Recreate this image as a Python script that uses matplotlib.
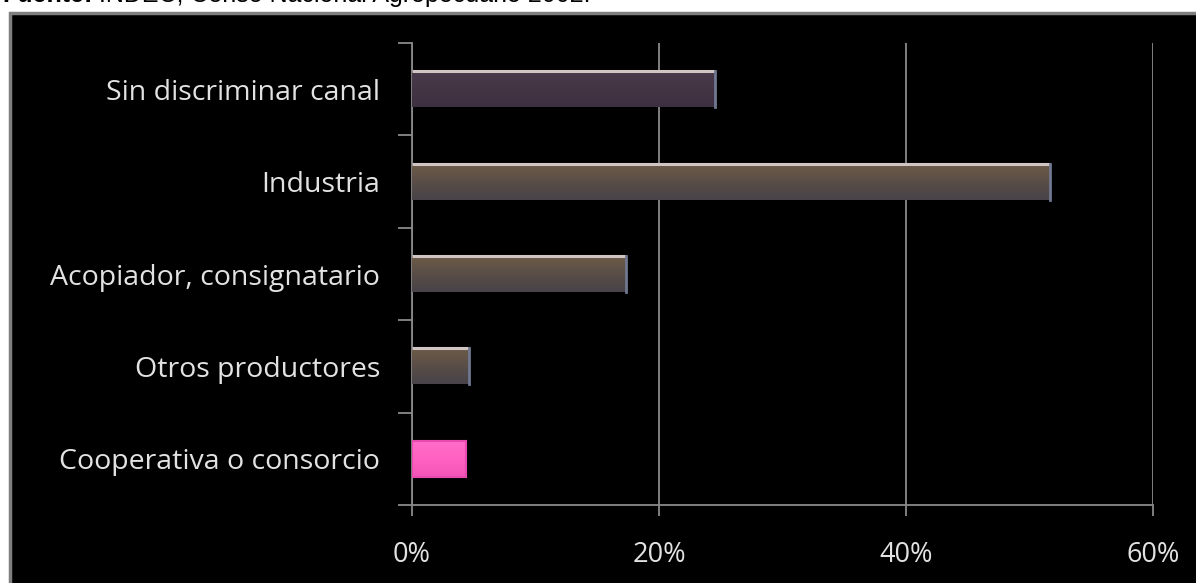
import matplotlib
matplotlib.use("Agg")
import matplotlib.pyplot as plt
import numpy as np
from matplotlib.patches import Rectangle
from matplotlib.text import Annotation
from matplotlib.colors import LinearSegmentedColormap
from matplotlib.ticker import FixedLocator, PercentFormatter

categories = ["Cooperativa o consorcio", "Otros productores",
              "Acopiador, consignatario", "Industria", "Sin discriminar canal"]
values = [4.4, 4.6, 17.3, 51.7, 24.5]
xticks = [0, 20, 40, 60]
source_head = "Fuente:"
source_body = " INDEC, Censo Nacional Agropecuario 2002."

W, H, DPI = 1196, 583, 100
fig = plt.figure(figsize=(W / DPI, H / DPI), dpi=DPI, facecolor="white")

# black slide panel with a grey frame on top and left
panel = Rectangle((10 / W, -0.05), 1.1, 1 - 13 / H + 0.05, transform=fig.transFigure,
                  facecolor="black", edgecolor="#7f7f7f", linewidth=2.5, zorder=-5)
fig.patches.append(panel)

head = fig.text(2 / W, 1 - 7 / H, source_head, fontsize=18, fontname="Liberation Sans",
                fontweight="bold", va="bottom", ha="left", color="black")
body = Annotation(source_body, xy=(1, 0), xycoords=head, va="bottom", ha="left",
                  fontsize=18, fontname="Liberation Sans", color="black",
                  annotation_clip=False)
fig.add_artist(body)

ax = fig.add_axes([412 / W, 1 - 505 / H, (1153 - 412) / W, (505 - 43) / H])
ax.patch.set_alpha(0)

y = np.arange(len(categories))
bh = 0.39
bars = ax.barh(y, values, height=bh, color="none", edgecolor="none", zorder=3)

gradients = {
    "brown": ["#6e5c47", "#5a4e47", "#474349"],
    "purple": ["#4a3a4c", "#443545", "#3d3040"],
    "pink": ["#ff6ec8", "#ff62c2", "#f455b8"],
}
styles = ["pink", "brown", "brown", "brown", "purple"]
for bar, st in zip(bars, styles):
    x0, y0 = bar.get_x(), bar.get_y()
    w, h = bar.get_width(), bar.get_height()
    cmap = LinearSegmentedColormap.from_list(st, gradients[st])
    grad = np.linspace(0, 1, 64).reshape(-1, 1)
    im = ax.imshow(grad, cmap=cmap, aspect="auto", origin="upper",
                   extent=(x0, x0 + w, y0, y0 + h), zorder=3, interpolation="bilinear")
    clip = Rectangle((x0, y0), w, h, transform=ax.transData, facecolor="none",
                     edgecolor="none")
    ax.add_patch(clip)
    im.set_clip_path(clip)
    if st == "pink":
        ax.add_patch(Rectangle((x0, y0), w, h, facecolor="none",
                               edgecolor="#e94aae", linewidth=1.5, zorder=4))
    else:
        # bevel: light top edge, blue-grey right edge
        ax.plot([x0, x0 + w], [y0 + h, y0 + h], color="#cfc6c4", lw=2.2, zorder=4,
                solid_capstyle="butt")
        ax.plot([x0 + w, x0 + w], [y0, y0 + h], color="#6f7890", lw=2.0, zorder=4)

ax.set_xlim(0, 60)
ax.set_ylim(-0.5, len(categories) - 0.5)
ax.xaxis.set_major_locator(FixedLocator(xticks))
ax.xaxis.set_major_formatter(PercentFormatter(decimals=0))
ax.grid(axis="x", color="#8a8a8a", linewidth=1.3, zorder=1)
ax.set_axisbelow(True)

ax.yaxis.set_major_locator(FixedLocator(np.arange(len(categories) + 1) - 0.5))
ax.yaxis.set_minor_locator(FixedLocator(y))
ax.set_yticklabels([])
ax.set_yticklabels(categories, minor=True)
ax.tick_params(axis="y", which="major", length=10, width=1.3, color="#8a8a8a", direction="out")
ax.tick_params(axis="y", which="minor", length=0, pad=23, labelsize=20.5, labelcolor="#e2e2e2")
ax.tick_params(axis="x", length=8, width=1.3, color="#8a8a8a", pad=18,
               labelsize=19.5, labelcolor="#e2e2e2")
for lab in ax.get_yticklabels(minor=True) + ax.get_xticklabels():
    lab.set_fontname("Open Sans")

for side in ["top", "right"]:
    ax.spines[side].set_visible(False)
for side in ["left", "bottom"]:
    ax.spines[side].set_color("#8a8a8a")
    ax.spines[side].set_linewidth(1.3)

fig.savefig("out.png", dpi=DPI, facecolor="white")
